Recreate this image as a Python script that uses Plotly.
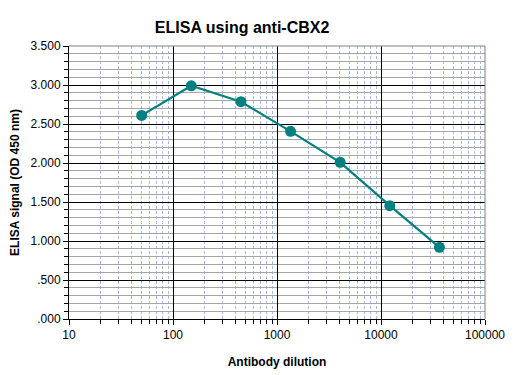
import plotly.graph_objects as go

dilution = [50, 150, 450, 1350, 4050, 12150, 36450]
signal = [2.61, 2.99, 2.786, 2.406, 2.009, 1.453, 0.919]

y_tick_vals = [0, 0.5, 1.0, 1.5, 2.0, 2.5, 3.0, 3.5]
y_tick_text = [".000", ".500", "1.000", "1.500", "2.000", "2.500", "3.000", "3.500"]
x_tick_vals = [10, 100, 1000, 10000, 100000]
x_tick_text = ["10", "100", "1000", "10000", "100000"]

FONT = "Liberation Sans, Arial, sans-serif"
TEAL = "#008080"

fig = go.Figure()
fig.add_trace(go.Scatter(
    x=dilution, y=signal, mode="lines+markers",
    line=dict(color=TEAL, width=2.2),
    marker=dict(color=TEAL, size=11),
    showlegend=False,
))

fig.update_layout(
    width=532, height=375,
    margin=dict(l=61, r=55, t=38, b=64, autoexpand=False),
    paper_bgcolor="white", plot_bgcolor="white",
    font=dict(family=FONT, size=12, color="#000000"),
    title=dict(text="<b>ELISA using anti-CBX2</b>", x=0.44, xanchor="center",
               y=0.947, yanchor="middle", font=dict(family=FONT, size=16, color="#000")),
    xaxis=dict(
        type="log", range=[1, 5], automargin=False,
        tickvals=x_tick_vals, ticktext=x_tick_text,
        showgrid=True, gridcolor="#000000", gridwidth=1,
        showline=True, linecolor="#000000", linewidth=1,
        ticks="outside", ticklen=5, tickcolor="#000",
        zeroline=False,
        minor=dict(dtick="D1", showgrid=True, gridcolor="#a3bce8", griddash="3px,2px",
                   gridwidth=1, ticks="outside", ticklen=4, tickcolor="#000"),
        title=dict(text="<b>Antibody dilution</b>", font=dict(family=FONT, size=12), standoff=16),
    ),
    yaxis=dict(
        range=[0, 3.5], automargin=False,
        tickvals=y_tick_vals, ticktext=y_tick_text,
        showgrid=True, gridcolor="#000000", gridwidth=1,
        showline=True, linecolor="#000000", linewidth=1,
        ticks="outside", ticklen=5, tickcolor="#000",
        zeroline=False,
        minor=dict(tick0=0, dtick=0.1, showgrid=True, gridcolor="#a6a6a6", gridwidth=1,
                   ticks="outside", ticklen=4, tickcolor="#000"),
        title=dict(text="<b>ELISA signal (OD 450 nm)</b>", font=dict(family=FONT, size=12), standoff=8),
    ),
    shapes=[
        dict(type="line", xref="paper", yref="paper", x0=0, x1=1, y0=1, y1=1,
             line=dict(color="#808080", width=1)),
        dict(type="line", xref="paper", yref="paper", x0=1, x1=1, y0=0, y1=1,
             line=dict(color="#808080", width=1)),
    ],
)

fig.write_html("out.html")
